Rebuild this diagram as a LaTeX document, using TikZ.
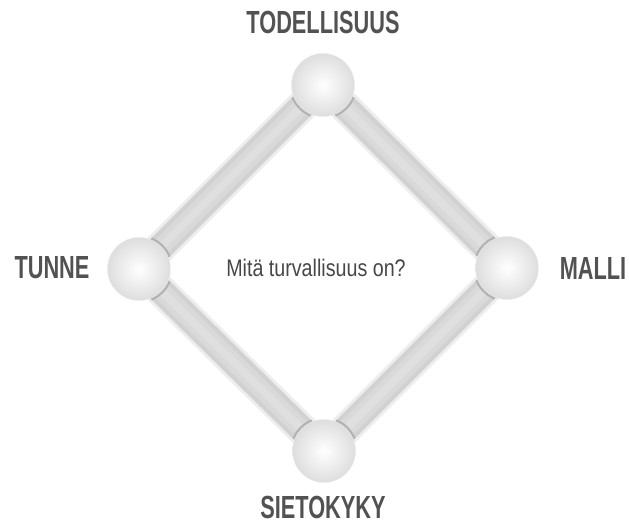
\documentclass[tikz,border=0pt]{standalone}
\usepackage{fontspec}
\setmainfont{Liberation Sans}
\newfontfamily\condb[FakeStretch=0.68]{Liberation Sans}
\newfontfamily\condr[FakeStretch=0.82]{Liberation Sans}
\usetikzlibrary{backgrounds}
\tikzset{
  sphere/.style={circle, minimum size=63pt, inner sep=0pt, shade, inner color=white, outer color=gray!26, draw=gray!16, line width=0.4pt},
  label/.style={text=black!68, font=\condb\bfseries\fontsize{32}{34}\selectfont, inner sep=0pt},
  center text/.style={text=black!72, font=\condr\fontsize{24}{26}\selectfont, inner sep=0pt},
  bar glow/.style={line width=32pt, color=gray!14},
  bar outer/.style={line width=26pt, color=gray!36},
  bar mid/.style={line width=18pt, color=gray!30},
  bar inner/.style={line width=8pt, color=gray!25},
  rim/.style={line width=3pt, color=gray!60}
}
\begin{document}
\begin{tikzpicture}[x=1pt,y=1pt]
\useasboundingbox (0,0) rectangle (629,529);
% spheres
\node[sphere] (T) at (323,444) {};
\node[sphere] (L) at (139,260) {};
\node[sphere] (R) at (507,261) {};
\node[sphere] (B) at (324,78) {};
\begin{pgfonlayer}{background}
  \foreach \a/\b in {T/L, T/R, L/B, R/B}{
    \draw[bar glow] (\a.center) -- (\b.center);
  }
  \foreach \a/\b in {T/L, T/R, L/B, R/B}{
    \draw[bar outer] (\a.center) -- (\b.center);
    \draw[bar mid] (\a.center) -- (\b.center);
    \draw[bar inner] (\a.center) -- (\b.center);
  }
  % shadow rims where bars meet spheres
  \foreach \n/\ang in {T/225, T/315, L/45, L/-45, R/135, R/225, B/45, B/135}{
    \draw[rim] (\n.center) ++(\ang-23:32.5) arc[start angle=\ang-23, end angle=\ang+23, radius=32.5];
  }
\end{pgfonlayer}
% labels
\node[label] (lt) at (323,507) {TODELLISUUS};
\node[label] (ll) at (52,261) {TUNNE};
\node[label] (lr) at (593,261) {MALLI};
\node[label] (lb) at (323,22) {SIETOKYKY};
\node[center text] (c) at (316,261) {Mitä turvallisuus on?};
\end{tikzpicture}
\end{document}
